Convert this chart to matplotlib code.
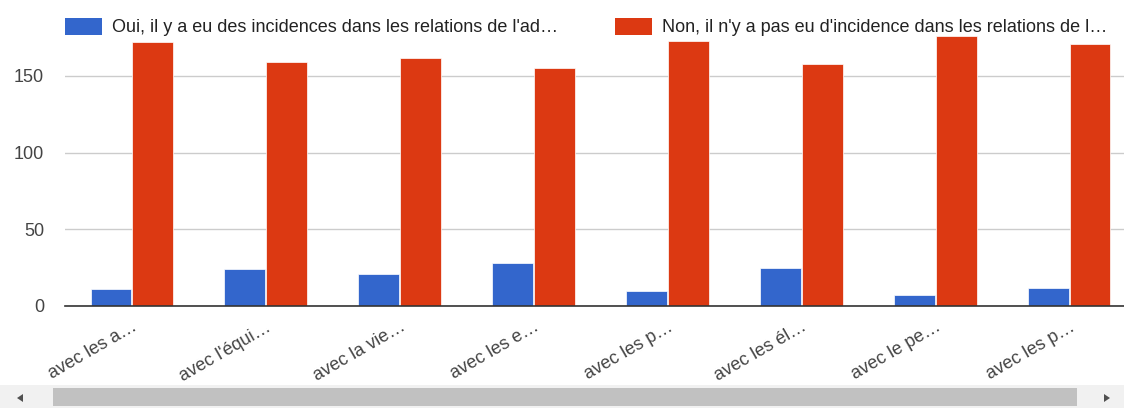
import numpy as np
import matplotlib
matplotlib.use("Agg")
import matplotlib.pyplot as plt
from matplotlib.patches import Rectangle, Polygon

plt.rcParams['font.family'] = ['Liberation Sans', 'DejaVu Sans']

# data
categories = ["avec les a…", "avec l'équi…", "avec la vie…", "avec les e…",
              "avec les p…", "avec les él…", "avec le pe…", "avec les p…"]
oui = [11, 24, 21, 28, 10, 25, 7, 12]
non = [172, 159, 162, 155, 173, 158, 176, 171]
series_names = ["Oui, il y a eu des incidences dans les relations de l'ad…",
                "Non, il n'y a pas eu d'incidence dans les relations de l…"]
colors = ["#3366cc", "#dc3912"]
yticks = [0, 50, 100, 150]

W, H = 1124, 408
fig = plt.figure(figsize=(W / 100, H / 100), dpi=100)
# the chart is wider than the visible area (it scrolls), so the axes run past the right edge
ax = fig.add_axes([65 / W, 1 - 306 / H, (1136 - 65) / W, (306 - 30) / H])

x = np.arange(len(categories))
bw = 0.305
ax.bar(x - bw / 2 - 0.004, oui, bw, color=colors[0], edgecolor='white', linewidth=0.5, zorder=3)
ax.bar(x + bw / 2 + 0.004, non, bw, color=colors[1], edgecolor='white', linewidth=0.5, zorder=3)

ax.set_xlim(-0.5, len(categories) - 0.5)
ax.set_ylim(0, 180)
ax.set_yticks(yticks)
ax.set_yticklabels([str(v) for v in yticks], fontsize=13, color='#444444')
ax.grid(axis='y', color='#cccccc', linewidth=1, zorder=0)
ax.tick_params(axis='y', length=0, pad=15)
ax.tick_params(axis='x', length=0, pad=9)
ax.set_xticks(x)
ax.set_xticklabels(categories, rotation=30, ha='right', rotation_mode='anchor',
                   fontsize=13, color='#444444')
for s in ['top', 'right', 'left']:
    ax.spines[s].set_visible(False)
ax.spines['bottom'].set_color('#333333')
ax.spines['bottom'].set_linewidth(1.2)
ax.spines['bottom'].set_zorder(4)

# legend drawn at the top like the original
leg_x = [65, 615]
for lx, name, c in zip(leg_x, series_names, colors):
    fig.patches.append(Rectangle((lx / W, 1 - 35 / H), 37 / W, 17 / H,
                                 transform=fig.transFigure, facecolor=c, edgecolor='none'))
    fig.text((lx + 47) / W, 1 - 27 / H, name, fontsize=13, color='#222222', va='center')

# scrollbar at the bottom
fig.patches.append(Rectangle((0, 0), 1, 23 / H, transform=fig.transFigure,
                             facecolor='#f1f1f1', edgecolor='none'))
fig.patches.append(Rectangle((53 / W, 2 / H), (1077 - 53) / W, 18 / H, transform=fig.transFigure,
                             facecolor='#c1c1c1', edgecolor='none'))
fig.patches.append(Polygon([(17 / W, 10 / H), (23 / W, 14 / H), (23 / W, 6 / H)], closed=True,
                           transform=fig.transFigure, facecolor='#505050', edgecolor='none'))
fig.patches.append(Polygon([(1110 / W, 10 / H), (1104 / W, 14 / H), (1104 / W, 6 / H)], closed=True,
                           transform=fig.transFigure, facecolor='#505050', edgecolor='none'))

fig.savefig("out.png", dpi=100)
